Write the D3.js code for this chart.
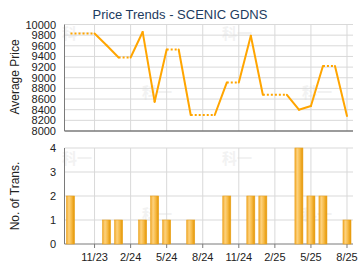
<!DOCTYPE html>
<html>
<head>
<meta charset="utf-8">
<script src="https://cdn.jsdelivr.net/npm/d3@7"></script>
<style>
  body { margin: 0; background: #fff; }
  text { font-family: "Liberation Sans", Arial, sans-serif; }
</style>
</head>
<body>
<div class="chart"></div>
<script>
// monthly data, 9/23 .. 8/25 (null = no transactions that month)
var months = ['9/23','10/23','11/23','12/23','1/24','2/24','3/24','4/24','5/24','6/24','7/24','8/24',
              '9/24','10/24','11/24','12/24','1/25','2/25','3/25','4/25','5/25','6/25','7/25','8/25'];
var prices = [9830, null, null, 9610, 9380, null, 9860, 8550, 9530, null, 8300, null,
              null, 8910, null, 9790, 8680, null, null, 8400, 8470, 9220, null, 8280];
var counts = [2, 0, 0, 1, 1, 0, 1, 2, 1, 0, 1, 0, 0, 2, 0, 2, 2, 0, 0, 4, 2, 2, 0, 1];
var tickMonths = ['11/23','2/24','5/24','8/24','11/24','2/25','5/25','8/25'];
var priceTicks = [8000, 8200, 8400, 8600, 8800, 9000, 9200, 9400, 9600, 9800, 10000];
var countTicks = [0, 1, 2, 3, 4];

var width = 360, height = 270;
var svg = d3.select(".chart").append("svg").attr("width", width).attr("height", height);

var defs = svg.append("defs");
var grad = defs.append("linearGradient").attr("id", "barGrad").attr("x1", "0").attr("x2", "1").attr("y1", "0").attr("y2", "0");
grad.append("stop").attr("offset", "0%").attr("stop-color", "#f2a92a");
grad.append("stop").attr("offset", "30%").attr("stop-color", "#fdd27e");
grad.append("stop").attr("offset", "60%").attr("stop-color", "#f7bc4a");
grad.append("stop").attr("offset", "100%").attr("stop-color", "#e39400");

var x = d3.scaleLinear().domain([-0.5, months.length - 0.5]).range([64.5, 353]);
var yTop = d3.scaleLinear().domain([8000, 10000]).range([131, 24.5]);
var yBot = d3.scaleLinear().domain([0, 4]).range([244, 148]);

// watermarks
var marks = [[77, 39], [237, 39], [157, 98], [317, 98], [77, 164], [237, 164], [157, 220], [317, 220]];
svg.selectAll(".wm").data(marks).enter().append("text")
  .attr("x", function(d) { return d[0]; })
  .attr("y", function(d) { return d[1]; })
  .attr("text-anchor", "middle")
  .style("font-family", "'Noto Sans CJK SC'")
  .style("font-size", "15px")
  .style("font-weight", "bold")
  .attr("fill", "#f2f2f2")
  .text("科一");

var gridColor = "#d9d9d9";

// top panel grid
svg.selectAll(".hgTop").data(priceTicks.slice(1)).enter().append("line")
  .attr("x1", x.range()[0]).attr("x2", x.range()[1])
  .attr("y1", function(d) { return yTop(d); }).attr("y2", function(d) { return yTop(d); })
  .attr("stroke", gridColor);
svg.selectAll(".vgTop").data(tickMonths).enter().append("line")
  .attr("x1", function(d) { return x(months.indexOf(d)); }).attr("x2", function(d) { return x(months.indexOf(d)); })
  .attr("y1", yTop(10000)).attr("y2", yTop(8000))
  .attr("stroke", gridColor);

// bottom panel grid
svg.selectAll(".hgBot").data(countTicks.slice(1)).enter().append("line")
  .attr("x1", x.range()[0]).attr("x2", x.range()[1])
  .attr("y1", function(d) { return yBot(d); }).attr("y2", function(d) { return yBot(d); })
  .attr("stroke", gridColor);
svg.selectAll(".vgBot").data(tickMonths).enter().append("line")
  .attr("x1", function(d) { return x(months.indexOf(d)); }).attr("x2", function(d) { return x(months.indexOf(d)); })
  .attr("y1", yBot(4)).attr("y2", yBot(0))
  .attr("stroke", gridColor);

// axes lines
var axisColor = "#7a7a7a";
svg.append("line").attr("x1", x.range()[0]).attr("x2", x.range()[0]).attr("y1", yTop(10000)).attr("y2", yTop(8000)).attr("stroke", axisColor);
svg.append("line").attr("x1", x.range()[0]).attr("x2", x.range()[1]).attr("y1", yTop(8000)).attr("y2", yTop(8000)).attr("stroke", axisColor).attr("stroke-width", 1.5);
svg.append("line").attr("x1", x.range()[0]).attr("x2", x.range()[0]).attr("y1", yBot(4)).attr("y2", yBot(0)).attr("stroke", axisColor);
svg.append("line").attr("x1", x.range()[0]).attr("x2", x.range()[1]).attr("y1", yBot(0)).attr("y2", yBot(0)).attr("stroke", axisColor);
svg.selectAll(".xt").data(tickMonths).enter().append("line")
  .attr("x1", function(d) { return x(months.indexOf(d)); }).attr("x2", function(d) { return x(months.indexOf(d)); })
  .attr("y1", yBot(0)).attr("y2", yBot(0) + 4)
  .attr("stroke", axisColor);

// tick labels
svg.selectAll(".ptl").data(priceTicks).enter().append("text")
  .attr("x", 56).attr("y", function(d) { return yTop(d) + 4; })
  .attr("text-anchor", "end").style("font-size", "11px").attr("fill", "#222")
  .text(function(d) { return d; });
svg.selectAll(".ctl").data(countTicks).enter().append("text")
  .attr("x", 56).attr("y", function(d) { return yBot(d) + 4; })
  .attr("text-anchor", "end").style("font-size", "11px").attr("fill", "#222")
  .text(function(d) { return d; });
svg.selectAll(".xtl").data(tickMonths).enter().append("text")
  .attr("x", function(d) { return x(months.indexOf(d)); }).attr("y", 261)
  .attr("text-anchor", "middle").style("font-size", "11px").attr("fill", "#222")
  .text(function(d) { return d; });

// titles
svg.append("text").attr("x", 180).attr("y", 19).attr("text-anchor", "middle")
  .style("font-size", "13px").attr("fill", "#1c3b60").text("Price Trends - SCENIC GDNS");
svg.append("text").attr("transform", "translate(19,77) rotate(-90)").attr("text-anchor", "middle")
  .style("font-size", "12px").attr("fill", "#222").text("Average Price");
svg.append("text").attr("transform", "translate(19,196) rotate(-90)").attr("text-anchor", "middle")
  .style("font-size", "12px").attr("fill", "#222").text("No. of Trans.");

// bars
var barW = 8;
svg.selectAll(".bar").data(counts.map(function(c, i) { return {i: i, c: c}; }).filter(function(d) { return d.c > 0; }))
  .enter().append("rect")
  .attr("x", function(d) { return x(d.i) - barW / 2; })
  .attr("y", function(d) { return yBot(d.c); })
  .attr("width", barW)
  .attr("height", function(d) { return yBot(0) - yBot(d.c); })
  .attr("fill", "url(#barGrad)")
  .attr("stroke", "#eaa21c").attr("stroke-width", 0.6);

// price line: carry last value through empty months, dotted there
var held = [];
var last = null;
prices.forEach(function(p, i) { if (p != null) last = p; held.push(last); });
var segs = [];
for (var i = 1; i < held.length; i++) {
  segs.push({a: i - 1, b: i, dotted: prices[i] == null});
}
var lineColor = "#ffa500";
svg.selectAll(".seg").data(segs).enter().append("line")
  .attr("x1", function(d) { return x(d.a); }).attr("x2", function(d) { return x(d.b); })
  .attr("y1", function(d) { return yTop(held[d.a]); }).attr("y2", function(d) { return yTop(held[d.b]); })
  .attr("stroke", lineColor)
  .attr("stroke-width", 2)
  .attr("stroke-linecap", function(d) { return d.dotted ? "butt" : "round"; })
  .attr("stroke-dasharray", function(d) { return d.dotted ? "2,2" : null; });
</script>
</body>
</html>
